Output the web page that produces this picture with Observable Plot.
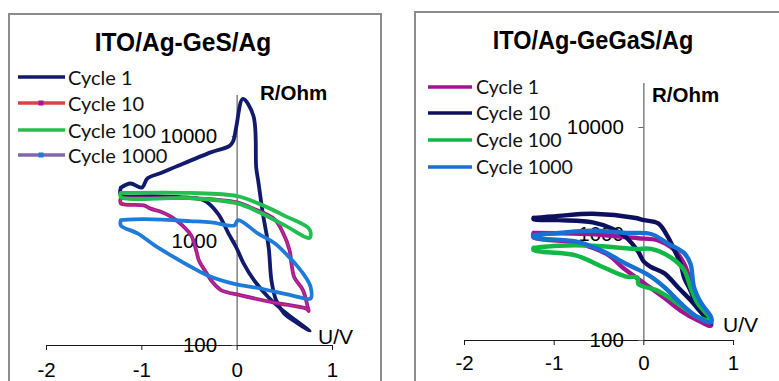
<!DOCTYPE html>
<html>
<head>
<meta charset="utf-8">
<script src="https://cdn.jsdelivr.net/npm/d3@7"></script>
<script src="https://cdn.jsdelivr.net/npm/@observablehq/plot@0.6"></script>
<style>
  html, body { margin: 0; padding: 0; background: #fff; }
  #root { position: relative; width: 779px; height: 381px; overflow: hidden; background: #fff; font-family: "Liberation Sans", Arial, sans-serif; }
  .panel { position: absolute; border: 2px solid #8c8c8c; box-sizing: border-box; }
  .abs { position: absolute; white-space: nowrap; line-height: 1; }
  .title { font-weight: bold; transform: translate(-50%, -50%) scaleY(1.08); color: #000; }
  .vlab { transform: translateY(-50%); color: #000; }
  .leg { font-family: Lato, "Liberation Sans", sans-serif; color: #111; transform: translateY(-50%); }
  svg.plot-svg { position: absolute; top: 0; }
</style>
</head>
<body>
<div id="root"></div>
<script>
// ---------- shared ----------
const xTicks = [-2, -1, 0, 1];
const yTicks = [100, 1000, 10000];
const cycleNames = ["Cycle 1", "Cycle 10", "Cycle 100", "Cycle 1000"];

// ---------- ITO/Ag-GeS/Ag (left) ----------
const gesTitle = "ITO/Ag-GeS/Ag";
const gesC1U = [-1.22,-1.12,-1.0,-0.94,-0.8,-0.62,-0.27,-0.08,-0.04,-0.01,0.06,0.17,0.2,0.22,0.27,0.33,0.36,0.41,0.49,0.64,0.76,0.57,0.46,0.33,0.18,0.07,-0.01,-0.09,-0.2,-0.35,-0.6,-0.9,-1.22,-1.22];
const gesC1R = [3240,3550,3240,3980,4470,5250,7080,8130,9120,12300,22900,15800,5010,3800,1820,870,417,269,204,162,138,186,224,288,417,603,871,1175,1820,2450,2630,2690,2750,3240];
const gesC10U = [-1.22,-0.8,-0.48,0.0,0.14,0.39,0.48,0.55,0.57,0.6,0.69,0.74,0.75,0.73,0.39,0.04,-0.17,-0.27,-0.34,-0.4,-0.43,-0.48,-0.59,-0.69,-0.8,-0.91,-0.98,-1.22,-1.22];
const gesC10R = [2570,2570,2570,2340,2090,1620,1200,813,603,447,339,234,214,224,257,302,339,417,525,646,813,1120,1450,1700,1905,2040,2190,2290,2570];
const gesC100U = [-1.22,-0.5,0.0,0.22,0.5,0.76,0.76,0.5,0.22,0.0,-0.5,-1.22,-1.22];
const gesC100R = [2880,2880,2690,2290,1740,1290,1070,1410,1905,2290,2570,2630,2880];
const gesC1000U = [-1.22,-0.98,-0.5,-0.27,-0.03,0.01,0.22,0.39,0.53,0.64,0.72,0.77,0.77,0.57,0.22,-0.03,-0.31,-0.52,-0.69,-0.87,-1.04,-1.22,-1.22];
const gesC1000R = [1585,1620,1550,1510,1410,1585,1175,955,724,562,447,363,282,302,355,389,468,589,724,912,1175,1410,1585];

// ---------- ITO/Ag-GeGaS/Ag (right) ----------
const gagTitle = "ITO/Ag-GeGaS/Ag";
const gagC1U = [-1.23,-0.6,-0.2,-0.06,0.16,0.34,0.45,0.52,0.6,0.75,0.6,0.41,0.23,0.0,-0.23,-0.39,-0.76,-1.23,-1.23];
const gagC1R = [1023,1000,933,912,871,708,525,363,240,138,155,191,251,347,479,631,832,933,1023];
const gagC10U = [-1.23,-0.95,-0.57,-0.09,0.0,0.16,0.27,0.34,0.41,0.45,0.52,0.6,0.75,0.6,0.52,0.38,0.23,0.08,0.0,-0.06,-0.2,-0.35,-0.57,-0.95,-1.23,-1.23];
const gagC10R = [1413,1479,1549,1413,1349,1259,933,708,525,389,295,204,145,200,240,316,427,490,550,676,933,1122,1288,1349,1380,1413];
const gagC100U = [-1.23,-0.95,-0.57,-0.09,0.08,0.3,0.45,0.52,0.6,0.75,0.6,0.41,0.15,-0.06,-0.07,-0.2,-0.46,-0.76,-1.23,-1.23];
const gagC100R = [741,776,776,724,724,603,457,316,224,155,166,214,295,339,389,398,490,631,708,741];
const gagC1000U = [-1.23,-0.95,-0.57,-0.2,0.08,0.27,0.45,0.52,0.56,0.64,0.75,0.75,0.6,0.41,0.23,0.04,-0.2,-0.46,-0.76,-1.23,-1.23];
const gagC1000R = [977,1023,1072,1023,1000,813,661,525,316,224,166,148,166,224,316,417,525,692,851,933,977];

// ---------- styles per panel ----------
const panels = [
  {
    title: gesTitle,
    series: [[gesC1U, gesC1R], [gesC10U, gesC10R], [gesC100U, gesC100R], [gesC1000U, gesC1000R]],
    colors: ["#111a6c", "#a3179b", "#22be4f", "#1f7bd7"],
    inner: [null, "#e4553f", null, null],
    legendLine: ["#111a6c", "#d9463f", "#22be4f", "#8366b0"],
    legendDot: [null, "#a3179b", null, "#1f7bd7"],
    svgLeft: 0, svgWidth: 390,
    margin: {left: 46, right: 58, top: 95, bottom: 36},
    yMax: 24660,
    box: {left: 8, top: 13, width: 374, height: 420},
    titlePos: {x: 183, y: 43, size: 24.5},
    legend: {x1: 18, x2: 65, tx: 68, ys: [77, 103, 130, 155], size: 20},
    rohm: {x: 260, y: 93}, uv: {x: 318, y: 336},
    tickFont: 20.5, xPad: 12,
    lineWidth: 3.8
  },
  {
    title: gagTitle,
    series: [[gagC1U, gagC1R], [gagC10U, gagC10R], [gagC100U, gagC100R], [gagC1000U, gagC1000R]],
    colors: ["#a11390", "#0d105c", "#12b846", "#1771d3"],
    inner: [null, null, null, null],
    legendLine: ["#a11390", "#0d105c", "#12b846", "#1771d3"],
    legendDot: [null, null, null, null],
    svgLeft: 390, svgWidth: 389,
    margin: {left: 74, right: 46, top: 83, bottom: 41},
    yMax: 25900,
    box: {left: 414, top: 11, width: 420, height: 420},
    titlePos: {x: 593, y: 41, size: 23.5},
    legend: {x1: 428, x2: 472, tx: 476, ys: [87, 113, 140, 167], size: 19.5},
    rohm: {x: 652, y: 95}, uv: {x: 723, y: 324},
    tickFont: 20.5, xPad: 10,
    lineWidth: 4.4
  }
];

const root = document.getElementById("root");

function addText(cls, txt, x, y, extra) {
  const d = document.createElement("div");
  d.className = "abs " + cls;
  d.textContent = txt;
  d.style.left = x + "px";
  d.style.top = y + "px";
  Object.assign(d.style, extra || {});
  root.appendChild(d);
  return d;
}

for (const p of panels) {
  const box = document.createElement("div");
  box.className = "panel";
  Object.assign(box.style, {left: p.box.left + "px", top: p.box.top + "px", width: p.box.width + "px", height: p.box.height + "px"});
  root.appendChild(box);

  const height = 381;
  const innerW = p.svgWidth - p.margin.left - p.margin.right;
  const zeroPx = innerW * (0 - xTicks[0]) / (xTicks[xTicks.length - 1] - xTicks[0]);

  const marks = [
    Plot.ruleX([0], {stroke: "#8a8a8a", strokeWidth: 1.6}),
    Plot.ruleY([100], {stroke: "#1a1a1a", strokeWidth: 1.2}),
    Plot.axisX({ticks: xTicks, tickSize: 5, tickPadding: p.xPad, fontSize: p.tickFont, label: null, tickFormat: d => String(d), stroke: "#1a1a1a"}),
    Plot.axisY({anchor: "left", ticks: yTicks, dx: zeroPx, tickSize: 5, tickPadding: 15, fontSize: p.tickFont, label: null, tickFormat: d => String(d), stroke: "#666"})
  ];
  p.series.forEach(([us, rs], i) => {
    const data = us.map((u, j) => ({u, r: rs[j]}));
    marks.push(Plot.line(data, {x: "u", y: "r", stroke: p.colors[i], strokeWidth: p.lineWidth, curve: "catmull-rom", strokeLinejoin: "round"}));
    if (p.inner[i]) marks.push(Plot.line(data, {x: "u", y: "r", stroke: p.inner[i], strokeWidth: 1, curve: "catmull-rom", strokeOpacity: 0.55}));
  });

  const chart = Plot.plot({
    width: p.svgWidth, height,
    marginLeft: p.margin.left, marginRight: p.margin.right, marginTop: p.margin.top, marginBottom: p.margin.bottom,
    x: {domain: [xTicks[0], xTicks[xTicks.length - 1]]},
    y: {type: "log", domain: [yTicks[0], p.yMax]},
    style: {background: "transparent", fontFamily: "'Liberation Sans', Arial, sans-serif", overflow: "visible", maxWidth: "none", color: "#000"},
    marks
  });
  chart.classList.add("plot-svg");
  chart.style.position = "absolute";
  chart.style.left = p.svgLeft + "px";
  chart.style.top = "0px";
  root.appendChild(chart);

  addText("title", p.title, p.titlePos.x, p.titlePos.y, {fontSize: p.titlePos.size + "px"});
  addText("vlab", "R/Ohm", p.rohm.x, p.rohm.y, {fontSize: "20.5px", fontWeight: "bold"});
  addText("vlab", "U/V", p.uv.x, p.uv.y, {fontSize: "21px"});

  cycleNames.forEach((name, i) => {
    const y = p.legend.ys[i];
    const ns = "http://www.w3.org/2000/svg";
    const s = document.createElementNS(ns, "svg");
    const w = p.legend.x2 - p.legend.x1;
    s.setAttribute("width", w + 4); s.setAttribute("height", 10);
    Object.assign(s.style, {position: "absolute", left: (p.legend.x1 - 2) + "px", top: (y - 5) + "px"});
    const ln = document.createElementNS(ns, "line");
    ln.setAttribute("x1", 2); ln.setAttribute("x2", w + 2); ln.setAttribute("y1", 5); ln.setAttribute("y2", 5);
    ln.setAttribute("stroke", p.legendLine[i]); ln.setAttribute("stroke-width", 3.6);
    s.appendChild(ln);
    if (p.legendDot[i]) {
      const c = document.createElementNS(ns, "rect");
      c.setAttribute("x", w / 2 - 1); c.setAttribute("y", 2.5); c.setAttribute("width", 5); c.setAttribute("height", 5);
      c.setAttribute("fill", p.legendDot[i]);
      s.appendChild(c);
    }
    root.appendChild(s);
    addText("leg", name, p.legend.tx, y, {fontSize: p.legend.size + "px"});
  });
}
</script>
</body>
</html>
